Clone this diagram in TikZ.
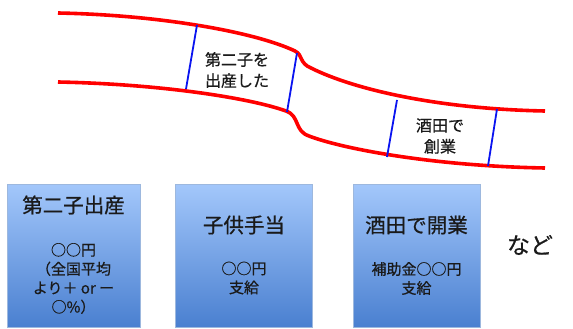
\documentclass[tikz,border=0pt]{standalone}
\usepackage{fontspec}
\newfontfamily\jp[FakeBold=0.6]{Noto Sans CJK JP}
\definecolor{lanered}{HTML}{FF0000}
\definecolor{laneblue}{HTML}{0A14F0}
\definecolor{boxtop}{HTML}{A3C7FB}
\definecolor{boxbot}{HTML}{4A80D0}
\definecolor{boxedge}{HTML}{9DB8DE}
\definecolor{txt}{HTML}{1A1A1A}
\begin{document}
\begin{tikzpicture}[x=1pt,y=-1pt,
  redline/.style={draw=lanered,line width=3.6pt},
  blueline/.style={draw=laneblue,line width=1.8pt},
  lanetext/.style={font=\jp\fontsize{16}{21}\selectfont,text=txt,align=center,inner sep=0pt},
  boxshape/.style={draw=boxedge,line width=0.6pt,top color=boxtop,bottom color=boxbot,inner sep=0pt},
  boxtitle/.style={font=\jp\fontsize{20.5}{24}\selectfont,text=txt,align=center,inner sep=0pt},
  boxbody/.style={font=\jp\fontsize{15}{19}\selectfont,text=txt,align=center,inner sep=0pt},
  bigtext/.style={font=\jp\fontsize{23}{26}\selectfont,text=txt,inner sep=0pt}]
\useasboundingbox (0,0) rectangle (573,329);
% lanes
\draw[redline] (58,13) .. controls (160,15) and (255,32) .. (295,51)
  .. controls (303,55) and (299,63) .. (311,68)
  .. controls (355,90) and (440,109) .. (545,111);
\draw[redline] (58,82) .. controls (160,84) and (250,98) .. (286,111)
  .. controls (300,116) and (294,131) .. (309,136)
  .. controls (340,148) and (430,166) .. (545,168);
\draw[blueline] (197,25) -- (186,89);
\draw[blueline] (297,53) -- (287,112);
\draw[blueline] (397,100) -- (387,157);
\draw[blueline] (497,109) -- (488,166);
\node[lanetext] (t1) at (237,70) {第二子を\\出産した};
\node[lanetext] (t2) at (440,136) {酒田で\\創業};
% boxes
\node[boxshape,minimum width=133pt,minimum height=143pt] (b1) at (73.5,255.5) {};
\node[boxshape,minimum width=137pt,minimum height=143pt] (b2) at (244,255.5) {};
\node[boxshape,minimum width=127pt,minimum height=143pt] (b3) at (416.5,255.5) {};
\node[boxtitle] (h1) at (73.5,205) {第二子出産};
\node[boxbody] (c1) at (73.5,278.5) {○○円\\（全国平均\\より＋ or ー\\○\%）};
\node[boxtitle] (h2) at (244,225) {子供手当};
\node[boxbody] (c2) at (244,278) {○○円\\支給};
\node[boxtitle] (h3) at (416.5,225) {酒田で開業};
\node[boxbody] (c3) at (416.5,278.5) {補助金○○円\\支給};
\node[bigtext] (etc) at (530,245) {など};
\end{tikzpicture}
\end{document}
